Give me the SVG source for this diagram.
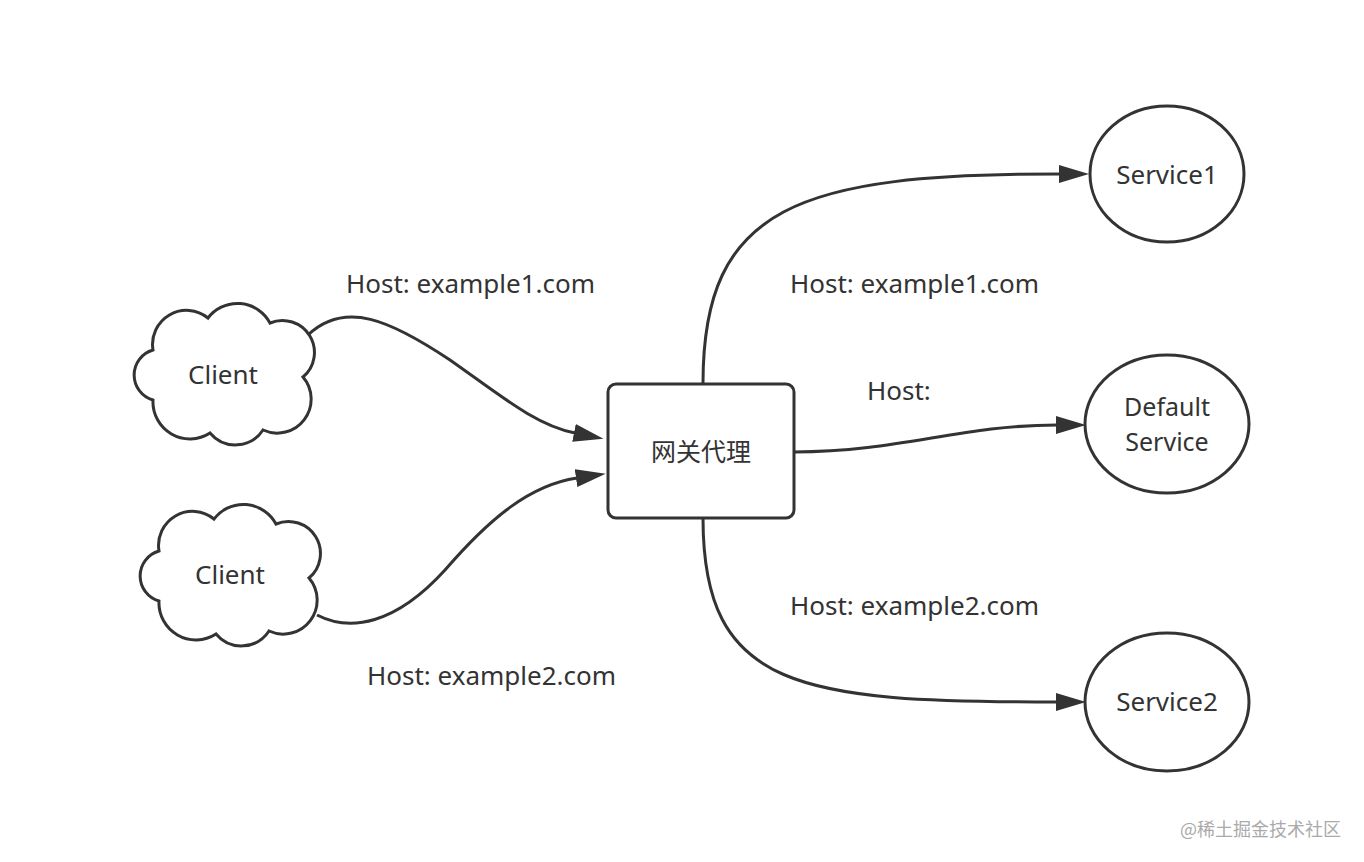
<svg xmlns="http://www.w3.org/2000/svg" width="1364" height="862" viewBox="0 0 1364 862">
<style>
.shape{fill:#fff;stroke:#333;stroke-width:3}
.edge{fill:none;stroke:#333;stroke-width:3}
.t{font-family:"Noto Sans","Open Sans","Noto Sans CJK SC",sans-serif;font-size:26px;fill:#333}
.c{text-anchor:middle}
.s{font-size:25px}
.cjk{font-family:"Noto Sans CJK SC",sans-serif;font-size:25px;fill:#333;text-anchor:middle}
.wm{font-family:"Noto Sans CJK SC",sans-serif;font-size:18px;fill:#aaa}
</style>
<defs>
<marker id="arr" markerUnits="userSpaceOnUse" markerWidth="32" markerHeight="20" viewBox="0 0 32 20" refX="1" refY="10" orient="auto">
<path d="M0,1 L30,10 L0,19 Z" fill="#333"/>
</marker>
<path id="cloud" d="M153,350 A34,34 0 0 1 208,318 A37,37 0 0 1 270,323 A32,32 0 0 1 303,377 A34,34 0 0 1 263,430 A33,33 0 0 1 210,433 A37,37 0 0 1 153,400 A26,26 0 0 1 153,350 Z"/>
</defs>
<rect width="1364" height="862" fill="#fff"/>
<g id="connectors">
<path class="edge" d="M308,335 C345,300 390,320 450,360 C500,395 535,425 575,433" marker-end="url(#arr)"/>
<path class="edge" d="M317,615 C350,632 395,625 445,570 C490,518 530,485 577,478" marker-end="url(#arr)"/>
<path class="edge" d="M703,383 C703,205 800,174 1060,174" marker-end="url(#arr)"/>
<path class="edge" d="M794,452 C900,452 960,425 1057,425" marker-end="url(#arr)"/>
<path class="edge" d="M703,518 C703,690 800,702 1057,702" marker-end="url(#arr)"/>
</g>
<g id="labels">
<text class="t" x="346" y="293">Host: example1.com</text>
<text class="t" x="367" y="685">Host: example2.com</text>
<text class="t" x="790" y="293">Host: example1.com</text>
<text class="t" x="867" y="400">Host:</text>
<text class="t" x="790" y="615">Host: example2.com</text>
</g>
<g id="client1">
<use href="#cloud" class="shape"/>
<text class="t c" x="223" y="384">Client</text>
</g>
<g id="client2">
<use href="#cloud" class="shape" transform="translate(6,201)"/>
<text class="t c" x="230" y="584">Client</text>
</g>
<g id="gateway">
<rect class="shape" x="608" y="384" width="186" height="134" rx="8"/>
<text class="cjk" x="701" y="461">网关代理</text>
</g>
<g id="service1">
<ellipse class="shape" cx="1167" cy="174" rx="77" ry="68" stroke-width="2.5"/>
<text class="t c" x="1167" y="184">Service1</text>
</g>
<g id="default-service">
<ellipse class="shape" cx="1167" cy="424" rx="82" ry="69" stroke-width="2.5"/>
<text class="t c s" x="1167" y="416">Default</text>
<text class="t c s" x="1167" y="451">Service</text>
</g>
<g id="service2">
<ellipse class="shape" cx="1167" cy="702" rx="82" ry="69" stroke-width="2.5"/>
<text class="t c" x="1167" y="711">Service2</text>
</g>
<text class="wm" x="1180" y="836">@稀土掘金技术社区</text>
</svg>
